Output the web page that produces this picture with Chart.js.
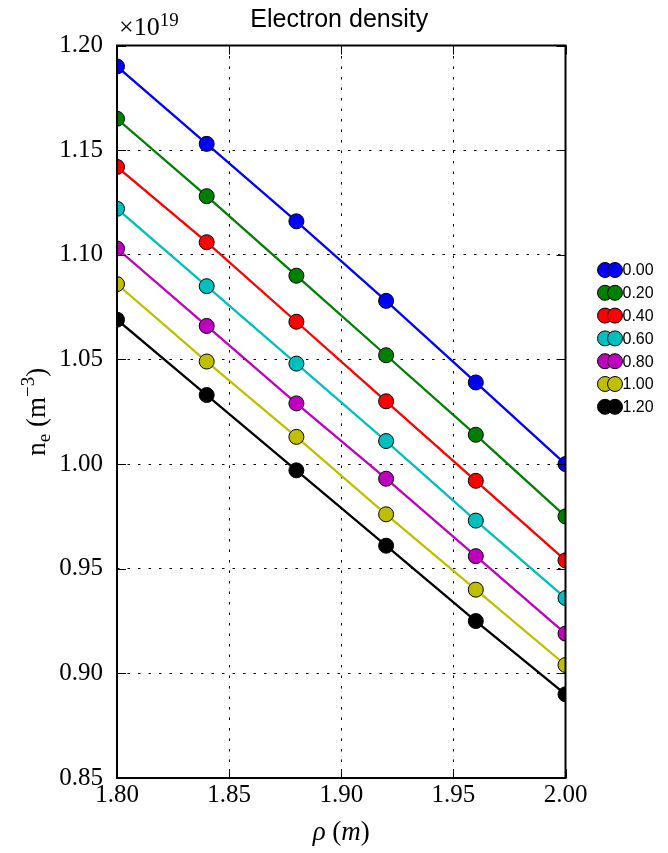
<!DOCTYPE html>
<html><head><meta charset="utf-8">
<script src="https://cdn.jsdelivr.net/npm/chart.js@4.4.1/dist/chart.umd.min.js"></script>
<style>html,body{margin:0;padding:0;background:#fff}#wrap{width:668px;height:853px;position:relative}canvas{display:block}</style>
</head><body><div id="wrap"><canvas id="c" width="668" height="853"></canvas></div>
<script>
// ---- data (values in units of 1e19 m^-3) ----
const rho = [1.80, 1.84, 1.88, 1.92, 1.96, 2.00];
const seriesLabels = ['0.00', '0.20', '0.40', '0.60', '0.80', '1.00', '1.20'];
const ne_000 = [1.190, 1.153, 1.116, 1.078, 1.039, 1.000];
const ne_020 = [1.165, 1.128, 1.090, 1.052, 1.014, 0.975];
const ne_040 = [1.142, 1.106, 1.068, 1.030, 0.992, 0.954];
const ne_060 = [1.122, 1.085, 1.048, 1.011, 0.973, 0.936];
const ne_080 = [1.103, 1.066, 1.029, 0.993, 0.956, 0.919];
const ne_100 = [1.086, 1.049, 1.013, 0.976, 0.940, 0.904];
const ne_120 = [1.069, 1.033, 0.997, 0.961, 0.925, 0.890];
const seriesValues = [ne_000, ne_020, ne_040, ne_060, ne_080, ne_100, ne_120];
const xTicks = [1.80, 1.85, 1.90, 1.95, 2.00];
const yTicks = [0.85, 0.90, 0.95, 1.00, 1.05, 1.10, 1.15, 1.20];
const seriesColors = ['#0000ff', '#008000', '#ff0000', '#00bfbf', '#bf00bf', '#bfbf00', '#000000'];

const SERIF = '"Liberation Serif", "DejaVu Serif", serif';
const SANS = '"Liberation Sans", Arial, sans-serif';

const datasets = seriesValues.map((vals, i) => ({
  label: seriesLabels[i],
  data: vals.map((v, j) => ({x: rho[j], y: v})),
  borderColor: seriesColors[i],
  backgroundColor: seriesColors[i],
  pointBackgroundColor: seriesColors[i],
  pointBorderColor: '#000',
  pointBorderWidth: 1,
  pointRadius: 7.5,
  pointHoverRadius: 7.5,
  borderWidth: 2.3,
  tension: 0,
  clip: 0
}));

function drawRich(ctx, parts, x, y, align) {
  let w = 0;
  parts.forEach(p => { ctx.font = p.font; p.w = ctx.measureText(p.t).width; w += p.w; });
  let cx = align === 'center' ? x - w / 2 : x;
  parts.forEach(p => { ctx.font = p.font; ctx.fillText(p.t, cx, y + (p.dy || 0)); cx += p.w; });
}

const decor = {
  id: 'decor',
  afterDatasetsDraw(chart) {
    const {ctx, chartArea: a, scales: {x, y}} = chart;
    ctx.save();
    ctx.strokeStyle = '#000';
    ctx.lineWidth = 1;
    ctx.setLineDash([]);
    ctx.beginPath();
    xTicks.forEach(v => {
      const px = Math.round(x.getPixelForValue(v)) + 0.5;
      ctx.moveTo(px, a.bottom); ctx.lineTo(px, a.bottom - 9);
      ctx.moveTo(px, a.top); ctx.lineTo(px, a.top + 9);
    });
    yTicks.forEach(v => {
      const py = Math.round(y.getPixelForValue(v)) + 0.5;
      ctx.moveTo(a.left, py); ctx.lineTo(a.left + 9, py);
      ctx.moveTo(a.right, py); ctx.lineTo(a.right - 9, py);
    });
    ctx.stroke();
    ctx.lineWidth = 2;
    ctx.strokeRect(a.left, a.top, a.right - a.left, a.bottom - a.top);
    ctx.restore();
  },
  afterDraw(chart) {
    const {ctx, chartArea: a} = chart;
    ctx.save();
    ctx.fillStyle = '#000';
    ctx.textBaseline = 'alphabetic';
    // title
    ctx.font = '25px ' + SANS;
    ctx.textAlign = 'center';
    ctx.fillText('Electron density', (a.left + a.right) / 2 - 2, 27);
    ctx.textAlign = 'left';
    // offset text
    drawRich(ctx, [
      {t: '×10', font: '26px ' + SERIF},
      {t: '19', font: '19px ' + SERIF, dy: -9}
    ], a.left + 2, 35, 'left');
    // x label
    drawRich(ctx, [
      {t: 'ρ', font: 'italic 27px ' + SERIF},
      {t: ' (', font: '27px ' + SERIF},
      {t: 'm', font: 'italic 27px ' + SERIF},
      {t: ')', font: '27px ' + SERIF}
    ], (a.left + a.right) / 2, 840, 'center');
    // y label (rotated)
    ctx.save();
    ctx.translate(45, (a.top + a.bottom) / 2);
    ctx.rotate(-Math.PI / 2);
    drawRich(ctx, [
      {t: 'n', font: '27px ' + SERIF},
      {t: 'e', font: '19px ' + SERIF, dy: 5},
      {t: ' (m', font: '27px ' + SERIF},
      {t: '−3', font: '19px ' + SERIF, dy: -11},
      {t: ')', font: '27px ' + SERIF}
    ], 0, 0, 'center');
    ctx.restore();
    // legend
    const lx1 = 605, lx2 = 615, ly0 = 270, dy = 22.8, r = 7.5;
    chart.data.datasets.forEach((ds, i) => {
      const cy = ly0 + i * dy;
      [lx1, lx2].forEach(cx => {
        ctx.beginPath();
        ctx.arc(cx, cy, r, 0, Math.PI * 2);
        ctx.fillStyle = ds.pointBackgroundColor;
        ctx.fill();
        ctx.lineWidth = 1;
        ctx.strokeStyle = '#000';
        ctx.stroke();
      });
      ctx.fillStyle = '#000';
      ctx.font = '16px ' + SANS;
      ctx.textBaseline = 'middle';
      ctx.fillText(ds.label, 622.5, cy + 1);
      ctx.textBaseline = 'alphabetic';
    });
    ctx.restore();
  }
};

new Chart(document.getElementById('c'), {
  type: 'line',
  data: {datasets},
  plugins: [decor],
  options: {
    responsive: false,
    devicePixelRatio: 1,
    animation: false,
    events: [],
    layout: {padding: {top: 45.5, right: 102.5, left: 0, bottom: 0}},
    plugins: {legend: {display: false}, tooltip: {enabled: false}, title: {display: false}},
    scales: {
      x: {
        type: 'linear',
        min: 1.80, max: 2.00,
        afterBuildTicks: s => { s.ticks = xTicks.map(v => ({value: v})); },
        afterFit: s => { s.height = 75; },
        ticks: {
          autoSkip: false, maxRotation: 0, padding: 2,
          color: '#000', font: {family: SERIF, size: 25},
          callback: v => Number(v).toFixed(2)
        },
        grid: {color: '#000', lineWidth: 1, drawTicks: false},
        border: {display: false, dash: [2.5, 8]}
      },
      y: {
        type: 'linear',
        min: 0.85, max: 1.20,
        afterBuildTicks: s => { s.ticks = yTicks.map(v => ({value: v})); },
        afterFit: s => { s.width = 117; },
        ticks: {
          autoSkip: false, padding: 14,
          color: '#000', font: {family: SERIF, size: 25},
          callback: v => Number(v).toFixed(2)
        },
        grid: {color: '#000', lineWidth: 1, drawTicks: false},
        border: {display: false, dash: [2.5, 8]}
      }
    }
  }
});
</script>
</body></html>
